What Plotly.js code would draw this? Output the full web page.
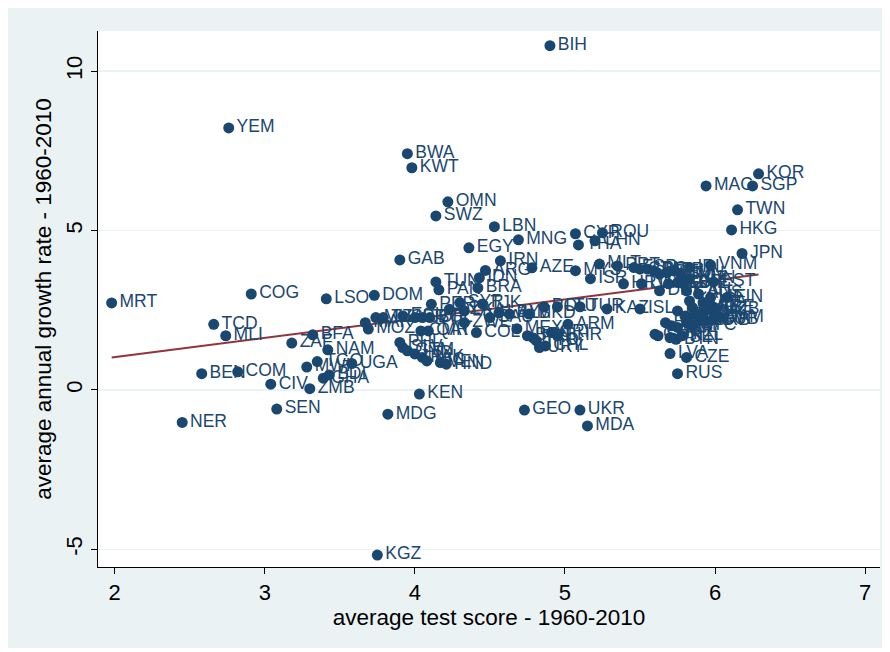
<!DOCTYPE html>
<html>
<head>
<meta charset="utf-8">
<script src="https://cdn.plot.ly/plotly-3.0.1.min.js"></script>
<style>
  html, body { margin: 0; padding: 0; background: #ffffff; }
  #chart { position: absolute; left: 8px; top: 8px; width: 874px; height: 640px; }
</style>
</head>
<body>
<div id="chart"></div>
<script>
// ---- data ----
const countries = [
  "BIH","YEM","BWA","KWT","KOR","MAC","SGP","OMN","SWZ","TWN",
  "LBN","HKG","CYP","THA","CHN","ROU","MNG","JPN","EGY","GAB",
  "IRN","ARG","IDN","TUN","PAN","BRA","AZE","MYS","ISR","MLT",
  "MRT","NER","BEN","TCD","MLI","COM","COG","CIV","SEN","ZAF",
  "MWI","ZMB","BFA","TGO","GHA","BDI","NAM","LSO","UGA","KGZ",
  "MDG","KEN","DOM","GEO","UKR","MDA",
  "MAR","MUS","MOZ","TZA","ECU","PRY","JOR","BOL","PER","DZA",
  "SYR","LKA","QAT","CMR","ZWE","COL","PHL","SLV","GTM","IND",
  "PAK","NIC","VEN","HND","SAU","LBY","ALB","MKD","POL","LTU",
  "TUR","KAZ","ISL","ARM","MEX","CRI","PRI","TTO","URY","CHL",
  "BHR","TJK","BRN",
  "PRT","ESP","GRC","ITA","BEL","AUT","DEU","FRA","SVN","IRL",
  "VNM","HRV","LUX","NLD","GBR","CHE","HUN","EST","DNK","CAN",
  "AUS","NOR","SWE","USA","LIE","FIN","BLR","SRB","MNE","BGR",
  "SVK","ARE","UZB","BRB","CUB","JAM","BHS","TKM","BLZ","FJI",
  "SYC","MDV","GUY","SUR","PSE","BTN","NZL","LVA","CZE","RUS"
];
const testScore = [
  4.90,2.76,3.95,3.98,6.29,5.94,6.25,4.22,4.14,6.15,
  4.53,6.11,5.07,5.09,5.20,5.25,4.69,6.18,4.36,3.90,
  4.57,4.47,4.43,4.14,4.16,4.42,4.78,5.07,5.17,5.23,
  1.98,2.45,2.58,2.66,2.74,2.82,2.91,3.04,3.08,3.18,
  3.28,3.30,3.32,3.35,3.39,3.43,3.42,3.41,3.58,3.75,
  3.82,4.03,3.73,4.73,5.10,5.15,
  3.67,3.74,3.69,3.79,3.92,4.00,4.05,4.10,4.11,4.23,
  4.30,4.33,4.09,4.04,4.33,4.41,3.90,3.92,3.95,4.00,
  4.05,4.08,4.17,4.21,4.50,4.56,4.63,4.76,4.86,4.95,
  5.10,5.28,5.50,5.02,4.68,4.91,4.79,4.81,4.83,4.87,
  4.95,4.45,4.75,
  5.35,5.46,5.50,5.55,5.59,5.63,5.68,5.72,5.77,5.83,
  5.97,5.39,5.51,5.69,5.75,5.79,5.83,5.99,5.63,5.81,
  5.89,5.83,5.85,5.92,5.97,6.08,5.75,5.80,5.83,5.88,
  5.92,5.97,6.01,5.94,5.99,6.04,5.67,5.71,5.75,5.81,
  5.85,5.90,5.60,5.62,5.70,5.74,5.78,5.70,5.81,5.75
];
const growth = [
  10.80,8.22,7.41,6.97,6.78,6.40,6.40,5.90,5.46,5.65,
  5.12,5.02,4.90,4.55,4.68,4.93,4.71,4.28,4.46,4.08,
  4.05,3.75,3.52,3.39,3.14,3.20,3.83,3.74,3.49,3.95,
  2.73,-1.02,0.51,2.06,1.70,0.57,3.01,0.18,-0.60,1.47,
  0.72,0.04,1.73,0.89,0.37,0.47,1.26,2.86,0.83,-5.18,
  -0.76,-0.13,2.97,-0.63,-0.63,-1.13,
  2.11,2.27,1.91,2.27,2.32,2.27,2.27,2.27,2.69,2.53,
  2.74,2.48,1.85,1.85,2.11,1.80,1.49,1.33,1.23,1.13,
  1.02,0.91,0.86,0.81,2.27,2.42,2.38,2.38,2.61,2.61,
  2.61,2.54,2.54,2.06,1.92,1.80,1.63,1.54,1.33,1.38,
  1.70,2.70,1.70,
  3.89,3.84,3.79,3.79,3.74,3.63,3.68,3.74,3.63,3.84,
  3.92,3.33,3.33,3.33,3.37,3.33,3.49,3.39,3.11,3.11,
  3.01,2.79,2.58,2.74,2.90,2.90,2.48,2.32,2.27,2.38,
  2.43,2.58,2.53,2.17,2.22,2.27,2.11,2.01,1.96,2.11,
  2.01,2.17,1.75,1.70,1.64,1.59,1.70,1.14,1.02,0.51
];
// fitted line end points
const fitX = [1.98, 6.29];
const fitY = [1.02, 3.62];
// axis ticks
const xTicks = [2, 3, 4, 5, 6, 7];
const yTicks = [-5, 0, 5, 10];

const navy = "#1a476f";
const fitColor = "#90353b";
const bgBlue = "#eaf2f3";
const font = "Liberation Sans, Arial, sans-serif";

const traces = [
  {
    type: "scatter", mode: "lines",
    x: fitX, y: fitY,
    line: { color: fitColor, width: 2 },
    hoverinfo: "skip", showlegend: false
  },
  {
    type: "scatter", mode: "markers+text",
    x: testScore, y: growth, text: countries,
    textposition: "middle right",
    textfont: { family: font, size: 17.5, color: navy },
    marker: { color: navy, size: 11, line: { width: 0 } },
    cliponaxis: false,
    hoverinfo: "skip", showlegend: false
  }
];

const layout = {
  width: 874, height: 640,
  paper_bgcolor: bgBlue,
  plot_bgcolor: "#ffffff",
  margin: { l: 90, r: 2, t: 23, b: 81, pad: 0 },
  font: { family: font, color: "#000000" },
  showlegend: false,
  hovermode: false,
  xaxis: {
    range: [1.889, 7.099],
    tickvals: xTicks,
    ticktext: xTicks.map(String),
    showgrid: false, zeroline: false,
    showline: true, linecolor: "#000000", linewidth: 1,
    ticks: "outside", ticklen: 6, tickcolor: "#000000", tickwidth: 1,
    tickfont: { family: font, size: 22, color: "#000000" },
    title: { text: "average test score - 1960-2010", font: { family: font, size: 22.5, color: "#000000" }, standoff: 4 },
    automargin: false, fixedrange: true
  },
  yaxis: {
    range: [-5.554, 11.26],
    tickvals: yTicks,
    ticktext: yTicks.map(String),
    tickangle: -90,
    showgrid: true, gridcolor: bgBlue, gridwidth: 1.5,
    zeroline: false,
    showline: true, linecolor: "#000000", linewidth: 1,
    ticks: "outside", ticklen: 6, tickcolor: "#000000", tickwidth: 1,
    tickfont: { family: font, size: 22, color: "#000000" },
    title: { text: "average annual growth rate - 1960-2010", font: { family: font, size: 22.5, color: "#000000" }, standoff: 4 },
    automargin: false, fixedrange: true
  }
};

Plotly.newPlot("chart", traces, layout, { displayModeBar: false, staticPlot: true });
</script>
</body>
</html>
